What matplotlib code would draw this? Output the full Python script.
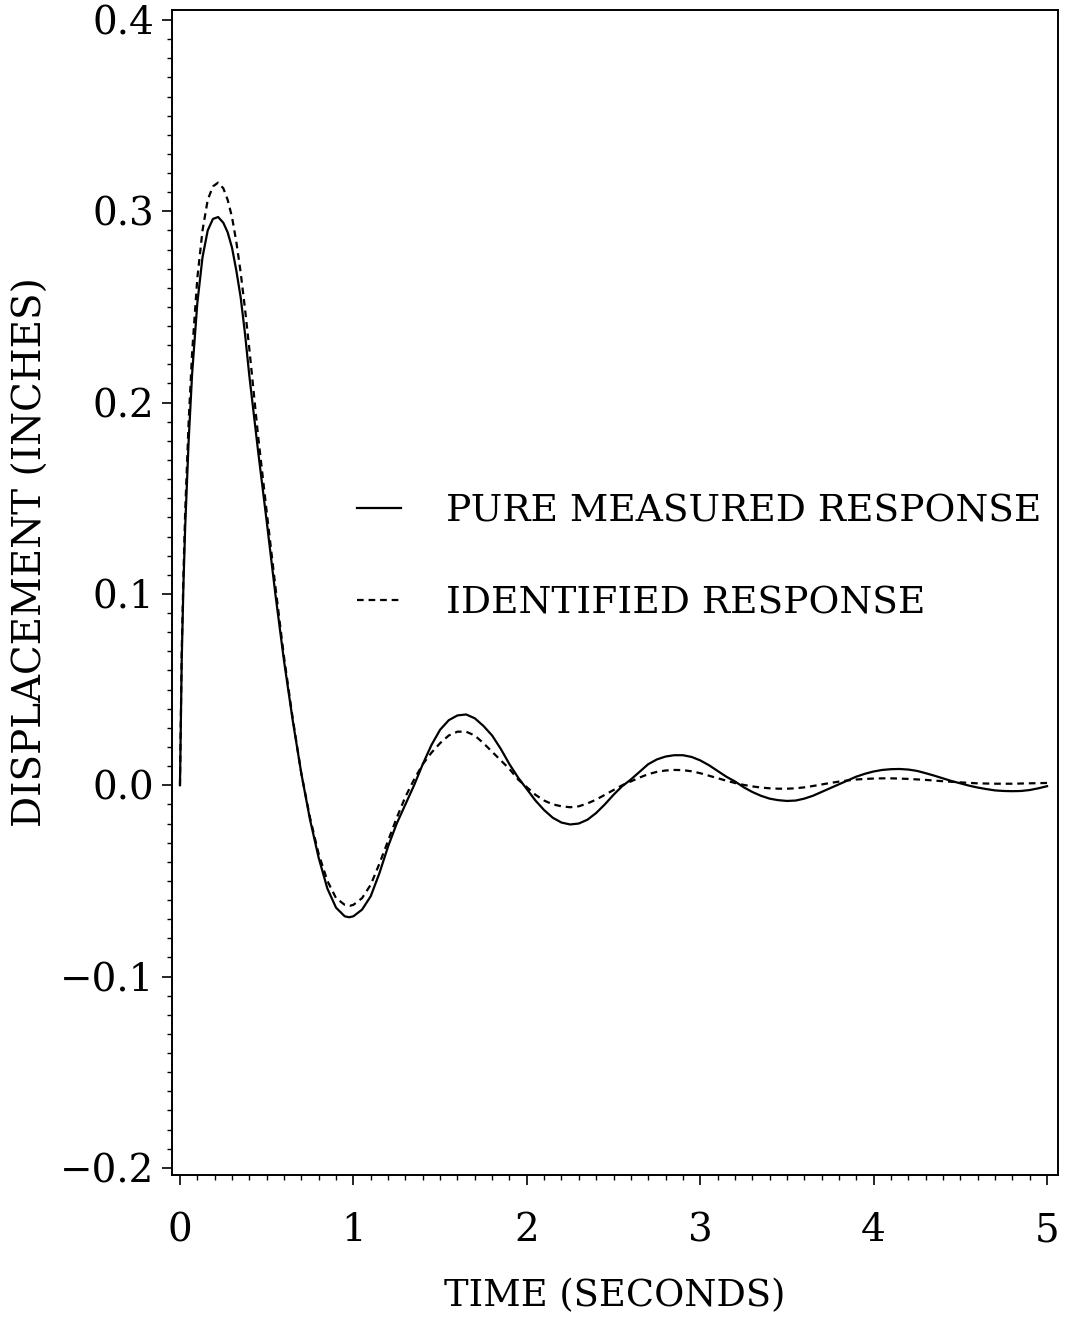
import matplotlib
matplotlib.use('Agg')
import matplotlib.pyplot as plt
from matplotlib.ticker import MultipleLocator, FuncFormatter

t_meas = [0.00, 0.01, 0.02, 0.03, 0.05, 0.07, 0.10, 0.13, 0.16, 0.19, 0.22, 0.25,
          0.275, 0.30, 0.325, 0.35, 0.375, 0.40, 0.45, 0.50, 0.55, 0.60, 0.65, 0.70,
          0.75, 0.80, 0.85,
          0.90, 0.95, 0.975, 1.00, 1.05, 1.10, 1.15, 1.20, 1.25, 1.30, 1.35, 1.40,
          1.45, 1.50, 1.55, 1.60, 1.65, 1.70, 1.75, 1.80, 1.85, 1.90, 1.95, 2.00,
          2.05, 2.10, 2.15, 2.20, 2.25, 2.30, 2.35, 2.40, 2.45, 2.50, 2.55, 2.60,
          2.65, 2.70, 2.75, 2.80, 2.85, 2.90, 2.95, 3.00, 3.05, 3.10, 3.15, 3.20,
          3.25, 3.30, 3.35, 3.40, 3.45, 3.50, 3.55, 3.60, 3.65, 3.70, 3.75, 3.80,
          3.85, 3.90, 3.95, 4.00, 4.05, 4.10, 4.15, 4.20, 4.25, 4.30, 4.35, 4.40,
          4.45, 4.50, 4.55, 4.60, 4.65, 4.70, 4.75, 4.80, 4.85, 4.90, 4.95, 5.00]
d_meas = [0.000, 0.065, 0.105, 0.135, 0.180, 0.215, 0.252, 0.276, 0.290, 0.296, 0.297, 0.294,
          0.289, 0.281, 0.269, 0.255, 0.236, 0.214, 0.175, 0.138, 0.100, 0.065, 0.034, 0.006,
          -0.018, -0.038, -0.054,
          -0.064, -0.0685, -0.069, -0.0685, -0.065, -0.058, -0.046, -0.032, -0.020, -0.010, 0.000, 0.011,
          0.021, 0.029, 0.034, 0.0365, 0.037, 0.035, 0.031, 0.026, 0.019, 0.011, 0.004, -0.002,
          -0.008, -0.013, -0.017, -0.0195, -0.0205, -0.020, -0.018, -0.0145, -0.010, -0.005, -0.0005, 0.003,
          0.007, 0.011, 0.0135, 0.015, 0.0157, 0.0157, 0.0148, 0.013, 0.0105, 0.0075, 0.0045, 0.002,
          -0.001, -0.0035, -0.0055, -0.007, -0.0078, -0.0082, -0.008, -0.007, -0.0055, -0.0035, -0.0015, 0.0005,
          0.0025, 0.0045, 0.006, 0.0072, 0.008, 0.0084, 0.0085, 0.0082, 0.0075, 0.0063, 0.005, 0.0036,
          0.0022, 0.001, -0.0002, -0.0012, -0.002, -0.0027, -0.003, -0.0031, -0.003, -0.0025, -0.0016, -0.0005]

# Identified response
t_iden = [0.00, 0.01, 0.02, 0.03, 0.05, 0.07, 0.10, 0.13, 0.16, 0.19, 0.22, 0.25,
          0.275, 0.30, 0.325, 0.35, 0.375, 0.40, 0.45, 0.50, 0.55, 0.60, 0.65, 0.70,
          0.75, 0.80, 0.85,
          0.90, 0.95, 0.98, 1.00, 1.05, 1.10, 1.15, 1.20, 1.25, 1.30, 1.35, 1.40,
          1.45, 1.50, 1.55, 1.60, 1.65, 1.70, 1.75, 1.80, 1.85, 1.90, 1.95, 2.00,
          2.05, 2.10, 2.15, 2.20, 2.25, 2.30, 2.35, 2.40, 2.45, 2.50, 2.55, 2.60,
          2.65, 2.70, 2.75, 2.80, 2.85, 2.90, 2.95, 3.00, 3.05, 3.10, 3.15, 3.20,
          3.25, 3.30, 3.35, 3.40, 3.45, 3.50, 3.55, 3.60, 3.65, 3.70, 3.75, 3.80,
          3.85, 3.90, 3.95, 4.00, 4.05, 4.10, 4.15, 4.20, 4.30, 4.40, 4.50, 4.60,
          4.70, 4.80, 4.90, 5.00]
d_iden = [0.000, 0.070, 0.110, 0.143, 0.190, 0.226, 0.265, 0.290, 0.306, 0.313, 0.315, 0.312,
          0.306, 0.297, 0.284, 0.268, 0.249, 0.228, 0.183, 0.143, 0.104, 0.067, 0.035, 0.006,
          -0.017, -0.036, -0.050,
          -0.059, -0.0625, -0.063, -0.0625, -0.059, -0.052, -0.041, -0.029, -0.017, -0.006, 0.003, 0.011,
          0.017, 0.022, 0.026, 0.028, 0.028, 0.026, 0.022, 0.0175, 0.013, 0.0085, 0.003, -0.001,
          -0.005, -0.008, -0.010, -0.011, -0.0115, -0.011, -0.0095, -0.0075, -0.005, -0.0025, 0.000, 0.002,
          0.004, 0.0058, 0.007, 0.0077, 0.008, 0.0079, 0.0073, 0.0063, 0.005, 0.0037, 0.0024, 0.0012,
          0.0002, -0.0006, -0.0012, -0.0016, -0.0018, -0.0018, -0.0016, -0.0011, -0.0004, 0.0004, 0.0012, 0.0019,
          0.0025, 0.003, 0.0033, 0.0035, 0.0036, 0.0036, 0.0035, 0.0033, 0.0028, 0.0021, 0.0015, 0.001,
          0.0008, 0.0008, 0.001, 0.0012]

x_ticks = [0, 1, 2, 3, 4, 5]
y_ticks = [-0.2, -0.1, 0.0, 0.1, 0.2, 0.3, 0.4]

plt.rcParams['font.family'] = 'DejaVu Serif'

fig = plt.figure(figsize=(10.65, 13.19), dpi=100)
ax = fig.add_axes([0.1615, 0.1092, 0.8319, 0.8832])

ax.plot(t_meas, d_meas, color='black', lw=1.6, label='PURE MEASURED RESPONSE')
ax.plot(t_iden, d_iden, color='black', lw=1.6, linestyle=(0, (3, 2.2)), label='IDENTIFIED RESPONSE')

ax.set_xlim(-0.046, 5.063)
ax.set_ylim(-0.2037, 0.4052)
ax.set_xticks(x_ticks)
ax.set_yticks(y_ticks)
ax.xaxis.set_minor_locator(MultipleLocator(0.1))
ax.yaxis.set_minor_locator(MultipleLocator(0.01))
ax.yaxis.set_major_formatter(FuncFormatter(lambda v, pos: ('%.1f' % v).replace('-', '\u2212')))
ax.tick_params(which='major', direction='out', length=7, width=1.2, labelsize=28)
ax.tick_params(which='minor', direction='out', length=3.5, width=1.0)
ax.tick_params(axis='x', which='major', pad=20)
ax.tick_params(axis='y', which='major', pad=6)
for s in ax.spines.values():
    s.set_linewidth(1.4)

ax.set_xlabel('TIME (SECONDS)', fontsize=26.5, labelpad=21)
ax.set_ylabel('DISPLACEMENT (INCHES)', fontsize=28)
ax.yaxis.set_label_coords(-0.138, 0.535)

ax.legend(loc='upper left', bbox_to_anchor=(0.2088, 0.5854), frameon=False,
          fontsize=27, handlelength=1.17, handletextpad=1.2, labelspacing=1.5,
          borderpad=0, borderaxespad=0)

fig.savefig('out.png', dpi=100)
